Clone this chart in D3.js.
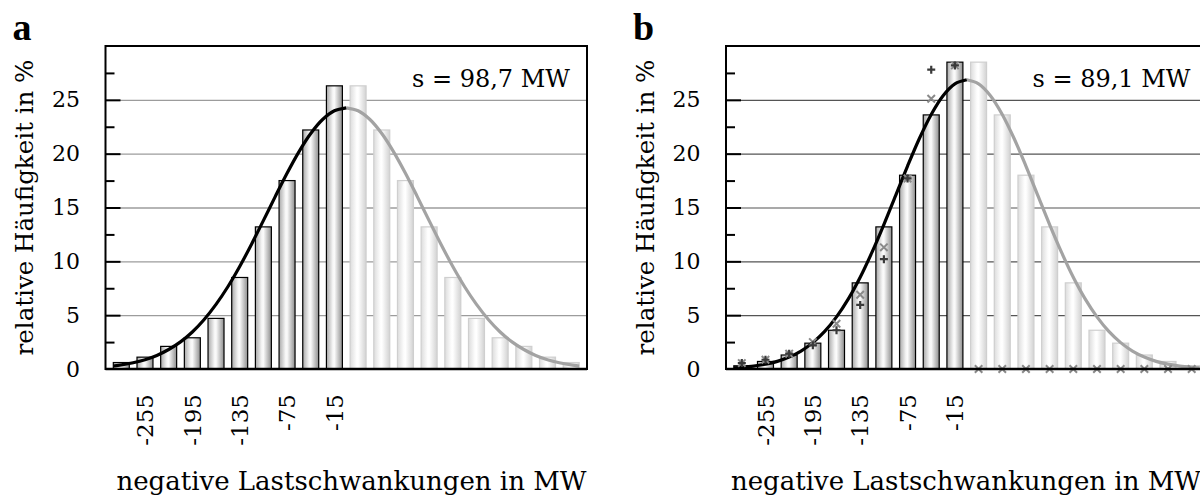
<!DOCTYPE html>
<html>
<head>
<meta charset="utf-8">
<script src="https://cdn.jsdelivr.net/npm/d3@7"></script>
<style>
  html, body { margin: 0; padding: 0; background: #fff; }
  svg { display: block; }
  text { font-family: "DejaVu Serif", serif; fill: #000; }
</style>
</head>
<body>
<div class="chart"></div>
<script>
// class centres of the histogram in MW
var categories = [-285, -255, -225, -195, -165, -135, -105, -75, -45, -15,
                  15, 45, 75, 105, 135, 165, 195, 225, 255, 285];
var xTickLabels = [-255, -195, -135, -75, -15];
var yTickLabels = [0, 5, 10, 15, 20, 25];
var yMinorTicks = [2.5, 7.5, 12.5, 17.5, 22.5, 27.5];

// relative frequencies in % (panel a and panel b)
var barsA = [0.6, 1.1, 2.1, 2.9, 4.7, 8.5, 13.2, 17.5, 22.2, 26.3,
             26.3, 22.2, 17.5, 13.2, 8.5, 4.7, 2.9, 2.1, 1.1, 0.6];
var barsB = [0.3, 0.7, 1.3, 2.4, 3.6, 8.0, 13.2, 18.0, 23.6, 28.5,
             28.5, 23.6, 18.0, 13.2, 8.0, 3.6, 2.4, 1.3, 0.7, 0.3];

var curveX = [-295, -285, -270, -255, -240, -225, -210, -195, -180, -165, -150,
              -135, -120, -105, -90, -75, -60, -45, -30, -15, 0];
var curveA = [0.28, 0.38, 0.58, 0.86, 1.26, 1.81, 2.52, 3.44, 4.60, 6.00, 7.64,
              9.52, 11.59, 13.78, 16.01, 18.18, 20.17, 21.87, 23.17, 23.98, 24.26];
var curveB = [0.11, 0.16, 0.27, 0.45, 0.71, 1.11, 1.67, 2.45, 3.49, 4.84, 6.51,
              8.52, 10.85, 13.41, 16.13, 18.85, 21.41, 23.64, 25.38, 26.48, 26.86];

// extra markers in panel b
var plusB = [0.55, 0.86, 1.42, 2.2, 3.6, 5.95, 10.2, 17.7, 27.8, 28.2];
var crossB = [0.55, 0.86, 1.42, 2.5, 4.2, 6.9, 11.3, 17.7, 25.1, 28.2,
              0, 0, 0, 0, 0, 0, 0, 0, 0, 0];

var sLabels = ["s = 98,7 MW", "s = 89,1 MW"];

var width = 1200, height = 499;
var plotW = 481.5;
var top_ = 46, bottom = 369;

var svg = d3.select("div.chart")
    .append("svg")
    .attr("width", width)
    .attr("height", height);

// cylinder-like shading of the bars
var defs = svg.append("defs");
function gradient(id, stops) {
    var lg = defs.append("linearGradient").attr("id", id)
        .attr("x1", "0%").attr("x2", "100%").attr("y1", "0%").attr("y2", "0%");
    stops.forEach(s => lg.append("stop").attr("offset", s[0]).attr("stop-color", s[1]));
}
gradient("gradDark", [["0%", "#a8a8a8"], ["40%", "#f6f6f6"], ["50%", "#fbfbfb"], ["100%", "#8e8e8e"]]);
gradient("gradLight", [["0%", "#dcdcdc"], ["40%", "#fdfdfd"], ["50%", "#ffffff"], ["100%", "#d2d2d2"]]);

// stroked symbols for the markers
var plusSymbol = { draw: function (ctx, size) {
    var r = Math.sqrt(size) / 2;
    ctx.moveTo(-r, 0); ctx.lineTo(r, 0);
    ctx.moveTo(0, -r); ctx.lineTo(0, r);
} };
var crossSymbol = { draw: function (ctx, size) {
    var r = Math.sqrt(size) / 2;
    ctx.moveTo(-r, -r); ctx.lineTo(r, r);
    ctx.moveTo(-r, r); ctx.lineTo(r, -r);
} };

function drawPanel(cfg) {
    var g = svg.append("g");
    var left = cfg.left, right = cfg.left + plotW;

    var x0 = d3.scaleBand()
        .domain(categories)
        .range([left, right])
        .paddingInner(0.325)
        .paddingOuter(0.33);
    var bw = x0.bandwidth();
    var xl = d3.scaleLinear()
        .domain([categories[0], categories[categories.length - 1]])
        .range([x0(categories[0]) + bw / 2, x0(categories[categories.length - 1]) + bw / 2]);
    var y = d3.scaleLinear()
        .domain([0, 30])
        .range([bottom, top_]);

    // grid
    g.append("g")
        .attr("transform", `translate(${left},0)`)
        .call(d3.axisRight(y).tickValues([5, 10, 15, 20, 25]).tickSize(plotW).tickFormat(""))
        .call(a => a.select(".domain").remove())
        .call(a => a.selectAll(".tick line")
            .attr("stroke", cfg.gridColor)
            .attr("stroke-width", cfg.gridWidth));

    // bars
    g.append("g")
        .selectAll("rect")
        .data(cfg.bars)
        .join("rect")
          .attr("x", (d, i) => x0(categories[i]))
          .attr("y", d => y(d))
          .attr("width", bw)
          .attr("height", d => y(0) - y(d))
          .attr("fill", (d, i) => categories[i] < 0 ? "url(#gradDark)" : "url(#gradLight)")
          .attr("stroke", (d, i) => categories[i] < 0 ? "#000" : "#cfcfcf")
          .attr("stroke-width", 1.2);

    // fitted curve, black on the negative side, grey on the positive side
    var line = d3.line()
        .x(d => xl(d[0]))
        .y(d => y(d[1]))
        .curve(d3.curveCatmullRom);
    var leftHalf = curveX.map((v, i) => [v, cfg.curve[i]]);
    var rightHalf = curveX.map((v, i) => [-v, cfg.curve[i]]).reverse();
    g.append("path")
        .attr("d", line(rightHalf))
        .attr("fill", "none")
        .attr("stroke", "#a3a3a3")
        .attr("stroke-width", 3.2);
    g.append("path")
        .attr("d", line(leftHalf))
        .attr("fill", "none")
        .attr("stroke", "#000")
        .attr("stroke-width", 3.2);

    // markers (panel b only)
    if (cfg.cross) {
        g.append("g")
            .selectAll("path")
            .data(cfg.cross)
            .join("path")
              .attr("transform", (d, i) => `translate(${xl(categories[i])},${y(d)})`)
              .attr("d", d3.symbol().type(crossSymbol).size(56))
              .attr("fill", "none")
              .attr("stroke", "#8a8a8a")
              .attr("stroke-width", 2);
    }
    if (cfg.plus) {
        g.append("g")
            .selectAll("path")
            .data(cfg.plus)
            .join("path")
              .attr("transform", (d, i) => `translate(${xl(categories[i])},${y(d)})`)
              .attr("d", d3.symbol().type(plusSymbol).size(64))
              .attr("fill", "none")
              .attr("stroke", "#3a3a3a")
              .attr("stroke-width", 2.2);
    }

    // ticks on the inside of the left frame
    g.append("g")
        .attr("transform", `translate(${left},0)`)
        .call(d3.axisRight(y).tickValues([5, 10, 15, 20, 25]).tickSize(15).tickFormat(""))
        .call(a => a.select(".domain").remove())
        .call(a => a.selectAll(".tick line").attr("stroke", "#000").attr("stroke-width", 2));
    g.append("g")
        .attr("transform", `translate(${left},0)`)
        .call(d3.axisRight(y).tickValues(yMinorTicks).tickSize(9).tickFormat(""))
        .call(a => a.select(".domain").remove())
        .call(a => a.selectAll(".tick line").attr("stroke", "#000").attr("stroke-width", 2));

    // frame
    g.append("rect")
        .attr("x", left)
        .attr("y", top_)
        .attr("width", plotW)
        .attr("height", bottom - top_)
        .attr("fill", "none")
        .attr("stroke", "#000")
        .attr("stroke-width", 2);
    g.append("line")
        .attr("x1", left).attr("x2", right)
        .attr("y1", bottom).attr("y2", bottom)
        .attr("stroke", "#000")
        .attr("stroke-width", 2.6);

    // y tick labels
    g.append("g")
        .attr("transform", `translate(${left},0)`)
        .call(d3.axisLeft(y).tickValues(yTickLabels).tickSize(0).tickPadding(25.5))
        .call(a => a.select(".domain").remove())
        .call(a => a.selectAll("text")
            .style("font-family", "'DejaVu Serif', serif")
            .style("font-size", "22px")
            .attr("fill", "#000"));

    // x tick labels, rotated
    g.append("g")
        .attr("transform", `translate(0,${bottom})`)
        .call(d3.axisBottom(x0).tickValues(xTickLabels).tickSize(0))
        .call(a => a.select(".domain").remove())
        .call(a => a.selectAll("text")
            .attr("transform", "rotate(-90)")
            .attr("x", -25)
            .attr("y", 0)
            .attr("dy", "0.36em")
            .style("text-anchor", "end")
            .style("font-family", "'DejaVu Serif', serif")
            .style("font-size", "23px")
            .attr("fill", "#000"));

    // axis titles
    g.append("text")
        .attr("transform", `translate(${left - 72.5},${(top_ + bottom) / 2}) rotate(-90)`)
        .attr("text-anchor", "middle")
        .style("font-size", "24.5px")
        .text("relative Häufigkeit in %");
    g.append("text")
        .attr("x", left + cfg.titleShift)
        .attr("y", 490)
        .attr("text-anchor", "middle")
        .style("font-size", "26px")
        .text("negative Lastschwankungen in MW");

    // standard deviation
    g.append("text")
        .attr("x", right - 17)
        .attr("y", 87)
        .attr("text-anchor", "end")
        .style("font-size", "24px")
        .text(cfg.sLabel);

    // panel letter
    g.append("text")
        .attr("x", cfg.left - 93)
        .attr("y", 40)
        .style("font-family", "'Liberation Serif', serif")
        .style("font-weight", "bold")
        .style("font-size", "38px")
        .text(cfg.letter);
}

drawPanel({ left: 105.5, letter: "a", bars: barsA, curve: curveA, sLabel: sLabels[0],
            titleShift: 246, gridColor: "#9c9c9c", gridWidth: 1.4 });
drawPanel({ left: 726, letter: "b", bars: barsB, curve: curveB, sLabel: sLabels[1],
            titleShift: 240, plus: plusB, cross: crossB, gridColor: "#555", gridWidth: 1.1 });
</script>
</body>
</html>
